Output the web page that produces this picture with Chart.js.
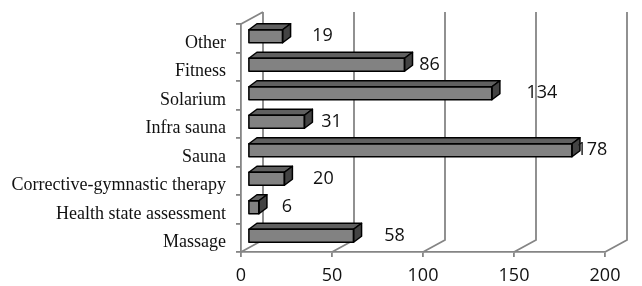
<!DOCTYPE html>
<html>
<head>
<meta charset="utf-8">
<script src="https://cdn.jsdelivr.net/npm/chart.js@4/dist/chart.umd.min.js"></script>
<style>
  body { margin: 0; background: #fff; }
</style>
</head>
<body>
<canvas id="myChart" width="642" height="286"></canvas>
<script>
const categories = ["Other", "Fitness", "Solarium", "Infra sauna", "Sauna",
  "Corrective-gymnastic therapy", "Health state assessment", "Massage"];
const visits = [19, 86, 134, 31, 178, 20, 6, 58];
const tickValues = [0, 50, 100, 150, 200];

// how far each value label sits right of its value (Excel puts them oddly in 3D)
const labelNudge = [47, 32, 57, 34, 27, 46, 35, 48];

const wall = { dx: 22, dy: -12 };   // depth of the back wall
const bar3d = { dx: 8, dy: -6, shiftX: 7, shiftY: -2 };
const gridColor = "#858585";

const threeD = {
  id: "threeD",
  beforeDatasetsDraw(chart) {
    const ctx = chart.ctx;
    const a = chart.chartArea;
    const x = chart.scales.x;
    ctx.save();
    ctx.strokeStyle = gridColor;
    ctx.lineWidth = 1.8;
    ctx.beginPath();
    // left side wall top edge
    ctx.moveTo(a.left, a.top);
    ctx.lineTo(a.left + wall.dx, a.top + wall.dy);
    tickValues.forEach(v => {
      const px = x.getPixelForValue(v);
      ctx.moveTo(px, a.bottom);
      ctx.lineTo(px + wall.dx, a.bottom + wall.dy);
      ctx.lineTo(px + wall.dx, a.top + wall.dy);
    });
    ctx.stroke();
    ctx.restore();

    // bars sit in the middle of the depth
    ctx.save();
    ctx.translate(bar3d.shiftX, bar3d.shiftY);
  },
  afterDatasetsDraw(chart) {
    const ctx = chart.ctx;
    const meta = chart.getDatasetMeta(0);
    ctx.lineWidth = 1.5;
    ctx.lineJoin = "round";
    ctx.strokeStyle = "#000";
    meta.data.forEach(b => {
      const l = b.base, r = b.x;
      const t = b.y - b.height / 2, btm = b.y + b.height / 2;
      // top face
      ctx.beginPath();
      ctx.moveTo(l, t);
      ctx.lineTo(l + bar3d.dx, t + bar3d.dy);
      ctx.lineTo(r + bar3d.dx, t + bar3d.dy);
      ctx.lineTo(r, t);
      ctx.closePath();
      ctx.fillStyle = "#606060";
      ctx.fill();
      ctx.stroke();
      // side face
      ctx.beginPath();
      ctx.moveTo(r, t);
      ctx.lineTo(r + bar3d.dx, t + bar3d.dy);
      ctx.lineTo(r + bar3d.dx, btm + bar3d.dy);
      ctx.lineTo(r, btm);
      ctx.closePath();
      ctx.fillStyle = "#434343";
      ctx.fill();
      ctx.stroke();
      // front outline again so it stays crisp
      ctx.strokeRect(l, t, r - l, btm - t);
    });
    ctx.restore();

    // value labels
    const x = chart.scales.x;
    ctx.save();
    ctx.font = "18px 'Open Sans'";
    ctx.fillStyle = "#111";
    ctx.textAlign = "center";
    ctx.textBaseline = "middle";
    meta.data.forEach((b, i) => {
      const px = x.getPixelForValue(visits[i]) + labelNudge[i];
      ctx.fillText(String(visits[i]), px, b.y - 2);
    });
    ctx.restore();
  }
};

const ctx = document.getElementById("myChart");

const myChart = new Chart(ctx, {
  type: "bar",
  data: {
    labels: categories,
    datasets: [
      {
        data: visits,
        backgroundColor: "#828282",
        borderWidth: 0,
        barThickness: 13,
        clip: false,
      },
    ],
  },
  options: {
    indexAxis: "y",
    responsive: false,
    animation: false,
    devicePixelRatio: 1,
    layout: { padding: { top: 24, right: 37, left: 0, bottom: 0 } },
    plugins: {
      legend: { display: false },
      tooltip: { enabled: false },
    },
    scales: {
      x: {
        min: 0,
        max: 200,
        afterBuildTicks: s => { s.ticks = tickValues.map(v => ({ value: v })); },
        afterFit: s => { s.height = 34; },
        grid: { drawOnChartArea: false, drawTicks: true, tickLength: 5, color: gridColor, lineWidth: 1.8 },
        border: { color: gridColor, width: 1.8 },
        ticks: { font: { family: "'Open Sans'", size: 18 }, color: "#111", padding: 8 },
      },
      y: {
        afterFit: s => { s.width = 241; },
        grid: { drawOnChartArea: false, drawTicks: true, tickLength: 5, color: gridColor, lineWidth: 1.8 },
        border: { color: gridColor, width: 1.8 },
        ticks: { font: { family: "'Liberation Serif'", size: 18 }, color: "#111", padding: 10, labelOffset: 5 },
      },
    },
  },
  plugins: [threeD],
});
</script>
</body>
</html>
